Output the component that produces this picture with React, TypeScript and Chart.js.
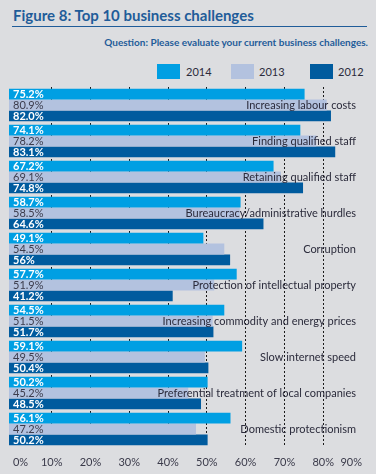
import React, { useEffect, useRef } from "react";
import { Chart, registerables } from "chart.js";

Chart.register(...registerables);

const categories = [
  "Increasing labour costs",
  "Finding qualified staff",
  "Retaining qualified staff",
  "Bureaucracy/administrative hurdles",
  "Corruption",
  "Protection of intellectual property",
  "Increasing commodity and energy prices",
  "Slow internet speed",
  "Preferential treatment of local companies",
  "Domestic protectionism",
];

const seriesNames = ["2014", "2013", "2012"];
const series2014 = [75.2, 74.1, 67.2, 58.7, 49.1, 57.7, 54.5, 59.1, 50.2, 56.1];
const series2013 = [80.9, 78.2, 69.1, 58.5, 54.5, 51.9, 51.5, 49.5, 45.2, 47.2];
const series2012 = [82.0, 83.1, 74.8, 64.6, 56, 41.2, 51.7, 50.4, 48.5, 50.2];

const labels2014 = ["75.2%", "74.1%", "67.2%", "58.7%", "49.1%", "57.7%", "54.5%", "59.1%", "50.2%", "56.1%"];
const labels2013 = ["80.9%", "78.2%", "69.1%", "58.5%", "54.5%", "51.9%", "51.5%", "49.5%", "45.2%", "47.2%"];
const labels2012 = ["82.0%", "83.1%", "74.8%", "64.6%", "56%", "41.2%", "51.7%", "50.4%", "48.5%", "50.2%"];

const xTicks = [0, 10, 20, 30, 40, 50, 60, 70, 80, 90];
const gridTicks = [10, 20, 30, 40, 50, 60, 70, 80];

const colors = ["#009fe3", "#b3c2df", "#005b9e"];
const BG = "#dcdde0";
const TITLE = "#1f5c99";
const TEXT = "#2b2b3b";

const valueLabels = [labels2014, labels2013, labels2012];

const labelPlugin = {
  id: "barLabels",
  afterDatasetsDraw(chart: any) {
    const ctx = chart.ctx;
    const area = chart.chartArea;
    ctx.save();
    ctx.textBaseline = "middle";
    chart.data.datasets.forEach((_ds: any, di: number) => {
      const meta = chart.getDatasetMeta(di);
      meta.data.forEach((el: any, i: number) => {
        ctx.font = di === 1 ? "11px Lato" : "bold 11px Lato";
        ctx.fillStyle = di === 1 ? "#3c3c4c" : "#ffffff";
        ctx.textAlign = "left";
        ctx.fillText(valueLabels[di][i], area.left + 4, el.y + 0.5);
      });
    });
    const mid = chart.getDatasetMeta(1);
    ctx.font = "11px Lato";
    ctx.fillStyle = TEXT;
    ctx.textAlign = "right";
    mid.data.forEach((el: any, i: number) => {
      ctx.fillText(categories[i], area.right - 6, el.y);
    });
    ctx.restore();
  },
};

export default function App() {
  const canvasRef = useRef<HTMLCanvasElement | null>(null);

  useEffect(() => {
    if (!canvasRef.current) return;
    const chart = new Chart(canvasRef.current, {
      type: "bar",
      data: {
        labels: categories,
        datasets: [series2014, series2013, series2012].map((d, i) => ({
          label: seriesNames[i],
          data: d,
          backgroundColor: colors[i],
          borderWidth: 0,
          base: -1,
          categoryPercentage: 0.9,
          barPercentage: 1.0,
        })),
      },
      options: {
        indexAxis: "y",
        animation: false,
        responsive: false,
        devicePixelRatio: 1,
        layout: { padding: { top: 7, left: 9, right: 14, bottom: 0 } },
        plugins: {
          legend: { display: false },
          title: { display: false },
          tooltip: { enabled: false },
        },
        scales: {
          x: {
            type: "linear",
            min: -1,
            max: 90,
            afterBuildTicks: (scale: any) => {
              scale.ticks = xTicks.map((v) => ({ value: v }));
            },
            afterFit: (scale: any) => {
              scale.height = 27;
            },
            grid: {
              drawTicks: false,
              lineWidth: 1,
              color: (c: any) =>
                c.tick && gridTicks.includes(c.tick.value) ? "#1a1a1a" : "rgba(0,0,0,0)",
            },
            border: { display: false, dash: [2, 2] },
            ticks: {
              align: "inner",
              padding: 9,
              color: "#3a3a4a",
              font: { family: "Lato", size: 11 },
              callback: (v: any) => v + "%",
            },
          },
          y: {
            display: false,
            grid: { display: false },
          },
        },
      },
      plugins: [labelPlugin],
    } as any);
    return () => chart.destroy();
  }, []);

  const legendItems = [
    { box: 157, text: 186 },
    { box: 231, text: 259 },
    { box: 310, text: 338 },
  ];

  return (
    <div
      style={{
        position: "absolute",
        left: 0,
        top: 0,
        width: 376,
        height: 474,
        background: BG,
        fontFamily: "Lato, sans-serif",
        overflow: "hidden",
      }}
    >
      <div
        style={{
          position: "absolute",
          left: 13,
          top: 5,
          fontSize: 15,
          lineHeight: "20px",
          fontWeight: "bold",
          color: TITLE,
          whiteSpace: "nowrap",
        }}
      >
        Figure 8: Top 10 business challenges
      </div>
      <div
        style={{
          position: "absolute",
          left: 12,
          top: 26,
          width: 355,
          height: 1,
          background: TITLE,
        }}
      />
      <div
        style={{
          position: "absolute",
          right: 8,
          top: 36,
          fontSize: 10,
          lineHeight: "13px",
          fontWeight: "bold",
          color: TITLE,
          whiteSpace: "nowrap",
        }}
      >
        Question: Please evaluate your current business challenges.
      </div>
      {legendItems.map((it, i) => (
        <React.Fragment key={seriesNames[i]}>
          <div
            style={{
              position: "absolute",
              left: it.box,
              top: 64,
              width: 23,
              height: 15,
              background: colors[i],
            }}
          />
          <div
            style={{
              position: "absolute",
              left: it.text,
              top: 64,
              fontSize: 11,
              lineHeight: "15px",
              color: TEXT,
            }}
          >
            {seriesNames[i]}
          </div>
        </React.Fragment>
      ))}
      <canvas
        ref={canvasRef}
        width={376}
        height={394}
        style={{ position: "absolute", left: 0, top: 80, width: 376, height: 394 }}
      />
    </div>
  );
}
